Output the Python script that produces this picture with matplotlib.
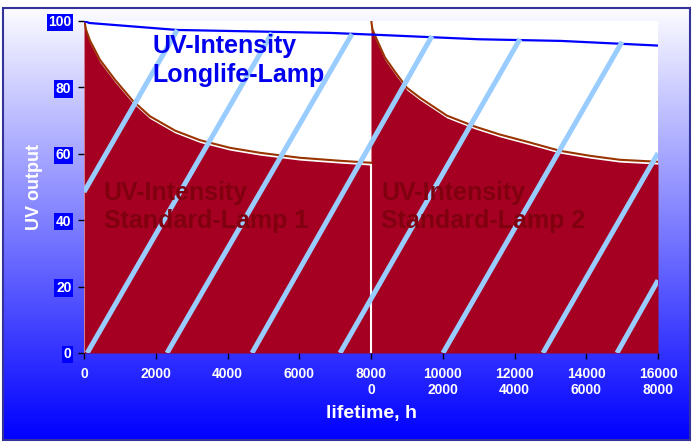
import numpy as np
import matplotlib
matplotlib.use('Agg')
import matplotlib.pyplot as plt
from matplotlib.patches import Rectangle

plt.rcParams['font.family'] = ['Liberation Sans', 'DejaVu Sans']

# ---------------------------------------------------------
# data
# ---------------------------------------------------------
longlife_h = [0, 150, 2600, 6900, 8250, 11000, 13300, 16000]
longlife_uv = [100, 99.4, 97.3, 96.4, 95.8, 94.5, 94.0, 92.6]

lamp1_h = [0, 56, 167, 446, 864, 1366, 1840, 2536, 3233, 4070, 4905, 6020, 7135, 8000]
lamp1_uv = [100, 96.7, 93.4, 87.6, 81.6, 75.2, 70.6, 66.3, 63.4, 61.1, 59.6, 58.1, 57.2, 56.6]

lamp2_h = [8000, 8040, 8138, 8389, 8668, 9000, 9364, 10117, 10897, 11594,
           12430, 13266, 14102, 14938, 16000]
lamp2_uv = [100, 96.8, 94.3, 88.3, 84.0, 79.2, 76.2, 70.8, 67.5, 65.1,
            62.7, 60.2, 58.7, 57.5, 56.9]

# decorative diagonal stripes (start h, start uv, end h, end uv)
stripes = [
    (0, 48.5, 2600, 97.3),
    (90, 0, 5240, 96.4),
    (2314, 0, 7470, 96.1),
    (4683, 0, 9700, 95.5),
    (7136, 0, 12153, 94.6),
    (10007, 0, 14997, 93.7),
    (12794, 0, 16000, 60.2),
    (14857, 0, 16000, 21.9),
]

xticks = [0, 2000, 4000, 6000, 8000, 10000, 12000, 14000, 16000]
xtick_labels = ['0', '2000', '4000', '6000', '8000\n0', '10000\n2000',
                '12000\n4000', '14000\n6000', '16000\n8000']
yticks = [0, 20, 40, 60, 80, 100]

fill_color = '#A50021'
edge_color = '#993300'
stripe_color = '#99CCFF'

W, H = 693, 442
fig = plt.figure(figsize=(W / 100, H / 100), dpi=100)

# gradient background
bg = fig.add_axes([0, 0, 1, 1], zorder=-10)
t = np.linspace(0, 1, 256)[:, None]
top = np.array([252, 252, 255]) / 255
bot = np.array([0, 0, 255]) / 255
grad = (top * (1 - t) + bot * t)[:, None, :] * np.ones((1, 2, 1))
bg.imshow(grad, extent=[3, 690, 440, 8], aspect='auto', origin='upper')
bg.add_patch(Rectangle((3, 8), 687, 432, fill=False, edgecolor='#333399', lw=1.5))
bg.set_xlim(0, W)
bg.set_ylim(H, 0)
bg.axis('off')

# plot area
ax = fig.add_axes([84 / W, (H - 353) / H, 574 / W, 332 / H])
ax.set_facecolor('white')
ax.set_xlim(0, 16000)
ax.set_ylim(0, 100)

ax.fill_between(lamp1_h, 0, lamp1_uv, color=fill_color, lw=0, zorder=2)
ax.fill_between(lamp2_h, 0, lamp2_uv, color=fill_color, lw=0, zorder=2)
ax.plot(lamp1_h, np.array(lamp1_uv) + 0.7, color=edge_color, lw=1.5, zorder=3)
ax.plot(lamp2_h, np.array(lamp2_uv) + 0.7, color=edge_color, lw=1.5, zorder=3)
ax.axvline(8000, ymin=0, ymax=0.566, color='white', lw=1.5, zorder=3)

ax.plot(longlife_h, longlife_uv, color='#0000FF', lw=1.6, zorder=4)

for x0, y0, x1, y1 in stripes:
    ax.plot([x0, x1], [y0, y1], color=stripe_color, lw=3.6,
            solid_capstyle='butt', zorder=5)

ax.text(1900, 88, 'UV-Intensity\nLonglife-Lamp', color='#0000EE', fontsize=18,
        fontweight='bold', va='center', ha='left', linespacing=1.25, zorder=6)
ax.text(550, 44, 'UV-Intensity\nStandard-Lamp 1', color='#800010', fontsize=18,
        fontweight='bold', va='center', ha='left', linespacing=1.25, zorder=6)
ax.text(8280, 44, 'UV-Intensity\nStandard-Lamp 2', color='#800010', fontsize=18,
        fontweight='bold', va='center', ha='left', linespacing=1.25, zorder=6)

for s in ax.spines.values():
    s.set_visible(False)

ax.set_xticks(xticks)
ax.set_xticklabels(xtick_labels, color='white', fontsize=10, fontweight='bold')
ax.set_yticks(yticks)
ax.set_yticklabels([str(v) for v in yticks], color='white', fontsize=10,
                   fontweight='bold')
for lab in ax.get_yticklabels():
    lab.set_bbox(dict(facecolor='#0000FF', edgecolor='none', pad=1.2))
ax.tick_params(axis='x', length=4, width=1, color='black', pad=6)
ax.tick_params(axis='y', length=4, width=1, color='black', pad=5)

ax.set_ylabel('UV output', color='white', fontsize=13, fontweight='bold', labelpad=4)
ax.set_xlabel('lifetime, h', color='white', fontsize=14, fontweight='bold', labelpad=6)

fig.savefig('out.png', dpi=100)
